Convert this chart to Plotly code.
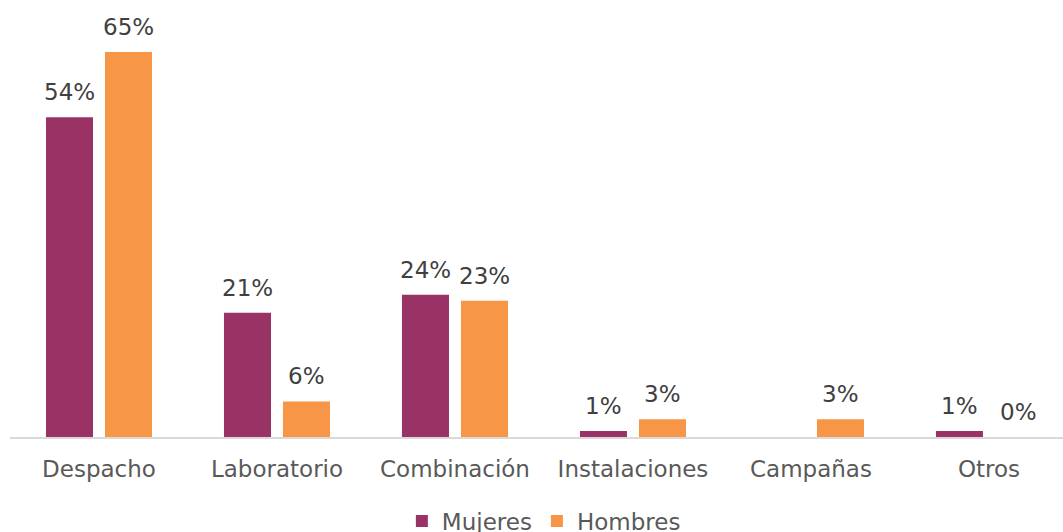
import plotly.graph_objects as go

categories = ["Despacho", "Laboratorio", "Combinación", "Instalaciones", "Campañas", "Otros"]
mujeres = [54, 21, 24, 1, None, 1]
hombres = [65, 6, 23, 3, 3, 0]
series_names = ["Mujeres", "Hombres"]
colors = ["#993366", "#F79646"]

FONT = "Verdana, DejaVu Sans, sans-serif"
FS = 23

fig = go.Figure()
idx = list(range(len(categories)))
for name, vals, col in zip(series_names, [mujeres, hombres], colors):
    fig.add_trace(go.Bar(
        x=idx, y=vals, name=name, marker=dict(color=col, line=dict(width=0)),
    ))

# data labels
offsets = [-0.1657, 0.1657]
for off, vals in zip(offsets, [mujeres, hombres]):
    for i, v in enumerate(vals):
        if v is None:
            continue
        fig.add_annotation(
            x=i + off, y=v, xref="x", yref="y", text=f"{v}%",
            showarrow=False, yanchor="middle", yshift=25,
            font=dict(family=FONT, size=FS, color="#404040"),
        )

fig.update_layout(
    width=1063, height=532,
    margin=dict(l=10, r=0, t=10, b=94.5, autoexpand=False),
    paper_bgcolor="white", plot_bgcolor="white",
    barmode="group", bargap=0.337, bargroupgap=0.203,
    font=dict(family=FONT, size=FS, color="#595959"),
    showlegend=True,
    legend=dict(orientation="h", x=0.507, xanchor="center",
                yref="container", y=0.0207, yanchor="middle",
                font=dict(family=FONT, size=FS, color="#595959"),
                itemwidth=30, tracegroupgap=0),
)
fig.update_xaxes(
    tickmode="array", tickvals=idx, ticktext=categories,
    range=[-0.5, 5.416], showline=True, linecolor="#D9D9D9", linewidth=2,
    showgrid=False, zeroline=False, ticks="", ticklen=0,
    ticklabelstandoff=10, automargin=False,
    tickfont=dict(family=FONT, size=FS, color="#595959"),
)
fig.update_yaxes(range=[0, 72.1], showticklabels=False, showgrid=False,
                 zeroline=False, showline=False, automargin=False)

fig.write_html(
    "out.html",
    config={"responsive": False, "displayModeBar": False},
    post_script="document.body.style.margin='0';document.body.style.overflow='hidden';",
)
